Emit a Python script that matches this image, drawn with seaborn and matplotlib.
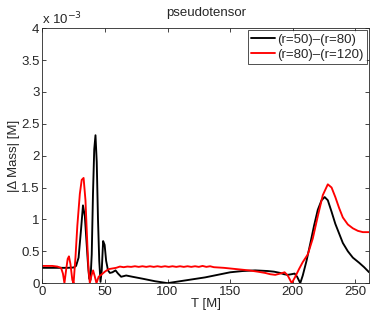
import pandas as pd
import matplotlib
matplotlib.use("Agg")
import matplotlib.pyplot as plt
import seaborn as sns

# Curve samples (Delta Mass in units of 1e-3 M)
t_black = [0, 10, 20, 25, 27, 29, 31, 32.5, 34, 35.5, 36.5, 37.5, 38.5, 39.5, 40.5,
           41.5, 42.5, 43.5, 44.5, 45.5, 46.5, 47.5, 48.6, 49.8, 51, 52.5, 54, 56,
           58.5, 60.5, 63, 67, 72, 80, 90, 100, 110, 120, 130, 140, 150, 160, 170,
           180, 185, 190, 193, 196, 199, 201.5, 203.5, 206, 208, 211, 214, 217, 220,
           223, 225.5, 228, 231, 234, 237, 240, 244, 248, 253, 257, 261]
m_black = [0.24, 0.24, 0.24, 0.245, 0.27, 0.4, 0.85, 1.22, 1.05, 0.6, 0.3, 0.07,
           0.05, 0.45, 1.4, 2.1, 2.32, 1.9, 1.0, 0.35, 0.02, 0.2, 0.66, 0.6, 0.35,
           0.2, 0.16, 0.17, 0.2, 0.15, 0.1, 0.12, 0.1, 0.07, 0.03, 0.0, 0.03, 0.06,
           0.09, 0.13, 0.17, 0.19, 0.2, 0.19, 0.18, 0.16, 0.14, 0.13, 0.14, 0.15,
           0.1, 0.0, 0.12, 0.35, 0.62, 0.9, 1.15, 1.3, 1.35, 1.3, 1.12, 0.93, 0.78,
           0.63, 0.5, 0.4, 0.32, 0.25, 0.17]

t_red = [0, 8, 12, 15, 16.5, 17.7, 19, 20.3, 21.3, 22.5, 24, 25, 26.5, 28, 30,
         31.5, 33, 34.5, 36, 37, 38, 39.3, 40.6, 42, 43.3, 45, 47, 50, 53, 56, 59,
         62, 65, 68, 71, 74, 77, 80, 83, 86, 89, 92, 95, 98, 101, 104, 107, 110,
         113, 116, 119, 122, 125, 128, 131, 134, 137, 145, 155, 165, 172, 178, 182,
         186, 190, 193.5, 196, 199.2, 202, 205, 208, 212, 216, 220, 224, 228, 231,
         234, 237, 240, 244, 248, 252, 256, 261]
m_red = [0.27, 0.27, 0.26, 0.24, 0.15, 0.0, 0.2, 0.38, 0.42, 0.3, 0.05, 0.0, 0.4,
         0.9, 1.4, 1.62, 1.65, 1.3, 0.6, 0.2, 0.0, 0.12, 0.2, 0.1, 0.0, 0.1, 0.13,
         0.18, 0.22, 0.23, 0.24, 0.26, 0.25, 0.26, 0.255, 0.265, 0.255, 0.265,
         0.255, 0.265, 0.255, 0.265, 0.255, 0.265, 0.255, 0.265, 0.255, 0.265,
         0.255, 0.265, 0.255, 0.265, 0.255, 0.27, 0.255, 0.265, 0.25, 0.24, 0.22,
         0.2, 0.18, 0.16, 0.14, 0.13, 0.15, 0.17, 0.12, 0.0, 0.1, 0.22, 0.33, 0.45,
         0.7, 1.05, 1.38, 1.55, 1.5, 1.35, 1.18, 1.03, 0.92, 0.86, 0.82, 0.8, 0.8]

labels = ["(r=50)\u2013(r=80)", "(r=80)\u2013(r=120)"]

df = pd.concat([
    pd.DataFrame({"T": t_black, "dm": m_black, "pair": labels[0]}),
    pd.DataFrame({"T": t_red, "dm": m_red, "pair": labels[1]}),
], ignore_index=True)

sns.set_style("ticks")
plt.rcParams["font.family"] = ["Liberation Sans", "DejaVu Sans"]

fig = plt.figure(figsize=(3.74, 3.16), dpi=100)
ax = fig.add_axes([0.113, 0.104, 0.874, 0.807])

sns.lineplot(data=df, x="T", y="dm", hue="pair", palette=["black", "red"],
             estimator=None, sort=False, linewidth=1.35, ax=ax)

ax.set_xlim(0, 261)
ax.set_ylim(0, 4)
ax.set_xticks([0, 50, 100, 150, 200, 250])
ax.set_yticks([0, 0.5, 1, 1.5, 2, 2.5, 3, 3.5, 4])
ax.set_yticklabels(["0", "0.5", "1", "1.5", "2", "2.5", "3", "3.5", "4"])
ax.tick_params(direction="in", top=True, right=True, labelsize=9.5,
               length=3, width=0.6, pad=2)
for s in ax.spines.values():
    s.set_linewidth(0.6)

ax.set_xlabel("T [M]", fontsize=9.5, labelpad=0)
ax.set_ylabel("|\u0394 Mass| [M]", fontsize=9.5, labelpad=1)
ax.set_title("pseudotensor", fontsize=9.5, pad=9)
ax.text(0.0, 1.005, "x 10$^{-3}$", transform=ax.transAxes, fontsize=9.5,
        ha="left", va="bottom")

leg = ax.legend(loc="upper right", fontsize=9.5, frameon=True, fancybox=False,
                handlelength=1.8, handletextpad=0.2, borderpad=0.25,
                labelspacing=0.2, borderaxespad=0.15)
leg.get_frame().set_edgecolor("black")
leg.get_frame().set_linewidth(0.6)
leg.set_title(None)

fig.savefig("out.png", dpi=100)
